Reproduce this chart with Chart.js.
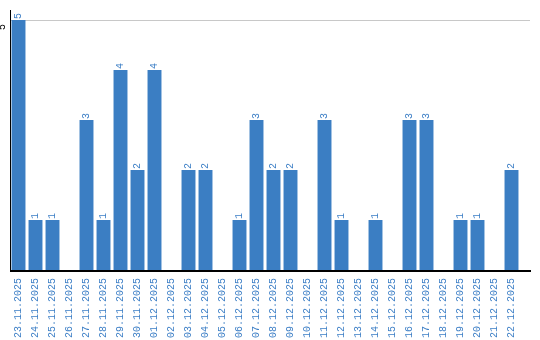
<!DOCTYPE html>
<html>
<head>
<meta charset="utf-8">
<script src="https://cdn.jsdelivr.net/npm/chart.js@4.4.1/dist/chart.umd.min.js"></script>
<style>
  html, body { margin: 0; padding: 0; background: #fff; }
  #wrap { width: 540px; height: 340px; }
</style>
</head>
<body>
<div id="wrap"><canvas id="chart" width="540" height="340"></canvas></div>
<script>
  const days = [
    '23.11.2025', '24.11.2025', '25.11.2025', '26.11.2025', '27.11.2025', '28.11.2025',
    '29.11.2025', '30.11.2025', '01.12.2025', '02.12.2025', '03.12.2025', '04.12.2025',
    '05.12.2025', '06.12.2025', '07.12.2025', '08.12.2025', '09.12.2025', '10.12.2025',
    '11.12.2025', '12.12.2025', '13.12.2025', '14.12.2025', '15.12.2025', '16.12.2025',
    '17.12.2025', '18.12.2025', '19.12.2025', '20.12.2025', '21.12.2025', '22.12.2025'
  ];
  const counts = [5, 1, 1, 0, 3, 1, 4, 2, 4, 0, 2, 2, 0, 1, 3, 2, 2, 0, 3, 1, 0, 1, 0, 3, 3, 0, 1, 1, 0, 2];
  const yTicks = [5];

  const barColor = '#3b7ec3';
  const textColor = '#3d7fc6';
  const monoFont = { family: '"Liberation Mono", "DejaVu Sans Mono", monospace', size: 10 };

  // value labels above bars, rotated like the axis labels
  const barLabels = {
    id: 'barLabels',
    afterDatasetsDraw(chart) {
      const ctx = chart.ctx;
      const meta = chart.getDatasetMeta(0);
      ctx.save();
      ctx.fillStyle = textColor;
      ctx.font = `${monoFont.size}px ${monoFont.family}`;
      ctx.textAlign = 'left';
      ctx.textBaseline = 'middle';
      meta.data.forEach((bar, i) => {
        const v = counts[i];
        if (!v) return;
        ctx.save();
        ctx.translate(bar.x, bar.y - 1);
        ctx.rotate(-Math.PI / 2);
        ctx.fillText(String(v), 0, 0);
        ctx.restore();
      });
      ctx.restore();
    }
  };

  // grid line and base line run a bit past the last category
  const extendLines = {
    id: 'extendLines',
    beforeDatasetsDraw(chart) {
      const { ctx, chartArea, scales } = chart;
      const right = chart.width - 10;
      ctx.save();
      ctx.lineWidth = 1;
      ctx.strokeStyle = '#c8c8c8';
      yTicks.forEach(t => {
        const y = Math.round(scales.y.getPixelForValue(t)) + 0.5;
        ctx.beginPath();
        ctx.moveTo(chartArea.left, y);
        ctx.lineTo(right, y);
        ctx.stroke();
      });
      ctx.lineWidth = 1;
      ctx.strokeStyle = '#000';
      ctx.beginPath();
      ctx.moveTo(chartArea.left + 0.5, chartArea.top);
      ctx.lineTo(chartArea.left + 0.5, chartArea.bottom);
      ctx.stroke();
      ctx.restore();
    },
    afterDatasetsDraw(chart) {
      const { ctx, chartArea, scales } = chart;
      const right = chart.width - 9;
      ctx.save();
      ctx.lineWidth = 2;
      ctx.strokeStyle = '#000';
      const y = Math.round(scales.y.getPixelForValue(0)) + 1;
      ctx.beginPath();
      ctx.moveTo(chartArea.left, y);
      ctx.lineTo(right, y);
      ctx.stroke();
      ctx.restore();
    }
  };

  new Chart(document.getElementById('chart'), {
    type: 'bar',
    data: {
      labels: days,
      datasets: [{
        data: counts,
        backgroundColor: barColor,
        categoryPercentage: 1,
        barPercentage: 0.82
      }]
    },
    options: {
      responsive: false,
      animation: false,
      layout: { padding: { top: 10, right: 20, left: 0, bottom: 0 } },
      plugins: {
        legend: { display: false },
        tooltip: { enabled: false }
      },
      scales: {
        x: {
          grid: { display: false },
          border: { display: false },
          ticks: {
            color: textColor,
            font: monoFont,
            minRotation: 90,
            maxRotation: 90,
            autoSkip: false,
            padding: 0
          },
          afterFit: s => { s.height = 70; }
        },
        y: {
          min: 0,
          max: 5.2,
          grid: { display: false },
          border: { display: false },
          afterBuildTicks: s => { s.ticks = yTicks.map(v => ({ value: v })); },
          ticks: {
            color: '#000',
            font: monoFont,
            minRotation: 90,
            maxRotation: 90,
            padding: 0,
            labelOffset: 4
          },
          afterFit: s => { s.width = 10; }
        }
      }
    },
    plugins: [extendLines, barLabels]
  });
</script>
</body>
</html>
